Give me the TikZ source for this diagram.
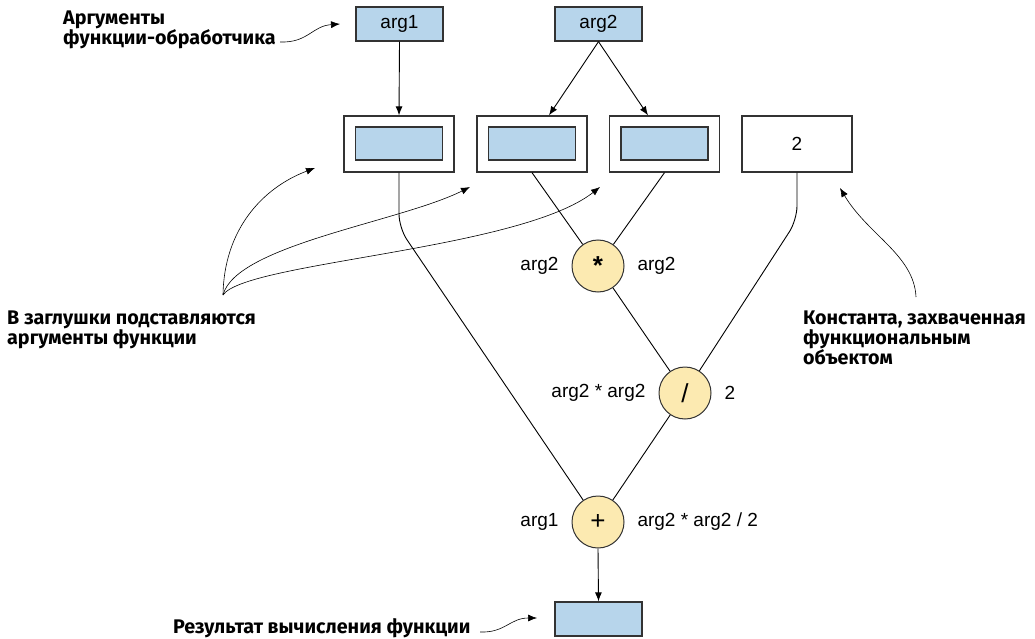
\documentclass[tikz,border=0pt]{standalone}
\usepackage{fontspec}
\setmainfont{Liberation Sans}
\newfontfamily\lblfont{Fira Sans}
\usetikzlibrary{arrows.meta,calc}
\definecolor{argblue}{HTML}{B7D5EB}
\definecolor{opyellow}{HTML}{FCEAB1}
\definecolor{edge}{HTML}{333333}
\begin{document}
\begin{tikzpicture}[x=1pt,y=-1pt,
  txt/.style={font=\fontsize{19}{22}\selectfont},
  lbl/.style={font=\lblfont\bfseries\fontsize{19.7}{20}\selectfont, align=left, inner sep=0pt},
  argbox/.style={draw=edge, line width=1.3pt, fill=argblue, minimum width=87pt, minimum height=34pt, inner sep=0pt, txt},
  outerbox/.style={draw=edge, line width=1.3pt, fill=white, minimum width=110pt, minimum height=56pt, inner sep=0pt, txt},
  innerbox/.style={draw=edge, line width=1.3pt, fill=argblue, minimum width=87pt, minimum height=33pt, inner sep=0pt},
  op/.style={circle, draw=edge, line width=1pt, fill=opyellow, minimum size=52pt, inner sep=0pt, font=\fontsize{26}{26}\selectfont},
  wire/.style={draw=black, line width=0.9pt},
  arr/.style={wire, -{Latex[length=9pt,width=7pt]}},
  note/.style={draw=black, line width=0.6pt, -{Latex[length=9pt,width=7pt]}}
]
\useasboundingbox (0,0) rectangle (1035,639);

% top argument boxes
\node[argbox] (arg1) at (399.5,24) {arg1};
\node[argbox] (arg2) at (598.5,24) {arg2};

% placeholder boxes
\node[outerbox] (o1) at (399,144) {};
\node[innerbox] (i1) at (399,143.5) {};
\node[outerbox] (o2) at (532,144) {};
\node[innerbox] (i2) at (532,143.5) {};
\node[outerbox] (o3) at (664.5,144) {};
\node[innerbox] (i3) at (664.5,143.5) {};
\node[outerbox] (c2) at (797,144) {2};

% operations
\node[op] (mul) at (598,266) {\textbf{*}};
\node[op] (div) at (685,393) {/};
\node[op] (plus) at (598,522) {+};

% result
\node[argbox] (res) at (598.5,619) {};

% operand labels
\node[txt, anchor=east] (l1) at (562,266) {arg2};
\node[txt, anchor=west] (l2) at (634,266) {arg2};
\node[txt, anchor=east] (l3) at (649,393) {arg2 * arg2};
\node[txt, anchor=west] (l4) at (721,393) {2};
\node[txt, anchor=east] (l5) at (562,522) {arg1};
\node[txt, anchor=west] (l6) at (634,522) {arg2 * arg2 / 2};

% argument arrows
\coordinate (t2) at ($(o2.north)+(17,0)$);
\coordinate (t3) at ($(o3.north)+(-16.5,0)$);
\draw[arr] (arg1.south) -- (o1.north);
\draw[arr] (arg2.south) -- (t2);
\draw[arr] (arg2.south) -- (t3);

% wires
\draw[wire, rounded corners=14pt] (o1.south) -- (399,228) -- (plus);
\draw[wire] (o2.south) -- (mul);
\draw[wire] (o3.south) -- (mul);
\draw[wire, rounded corners=14pt] (c2.south) -- (797,220) -- (div);
\draw[wire] (mul) -- (div);
\draw[wire] (div) -- (plus);
\draw[arr] (plus.south) -- (res.north);

% annotations
\node[lbl, anchor=base west] (n1) at (63,45) {Аргументы\\функции-обработчика};
\coordinate (n1s) at (280,42);
\coordinate (n1e) at (340,24);
\draw[note] (n1s) .. controls (308,43) and (312,26) .. (n1e);

\node[lbl, anchor=base west] (n2) at (7,344) {В заглушки подставляются\\аргументы функции};
\coordinate (n2s) at (223,295);
\coordinate (n2a) at (315,168);
\coordinate (n2b) at (470,187);
\coordinate (n2c) at (600,187);
\draw[note] (n2s) .. controls (224,230) and (262,188) .. (n2a);
\draw[note] (n2s) .. controls (236,245) and (400,222) .. (n2b);
\draw[note] (n2s) .. controls (245,262) and (520,250) .. (n2c);

\node[lbl, anchor=base west] (n3) at (803,364) {Константа, захваченная\\функциональным\\объектом};
\coordinate (n3s) at (916,297);
\coordinate (n3e) at (840,188);
\draw[note] (n3s) .. controls (914,255) and (868,235) .. (n3e);

\node[lbl, anchor=base west] (n4) at (173,633) {Результат вычисления функции};
\coordinate (n4s) at (480,632);
\coordinate (n4e) at (537,618);
\draw[note] (n4s) .. controls (505,633) and (510,618) .. (n4e);
\end{tikzpicture}
\end{document}
